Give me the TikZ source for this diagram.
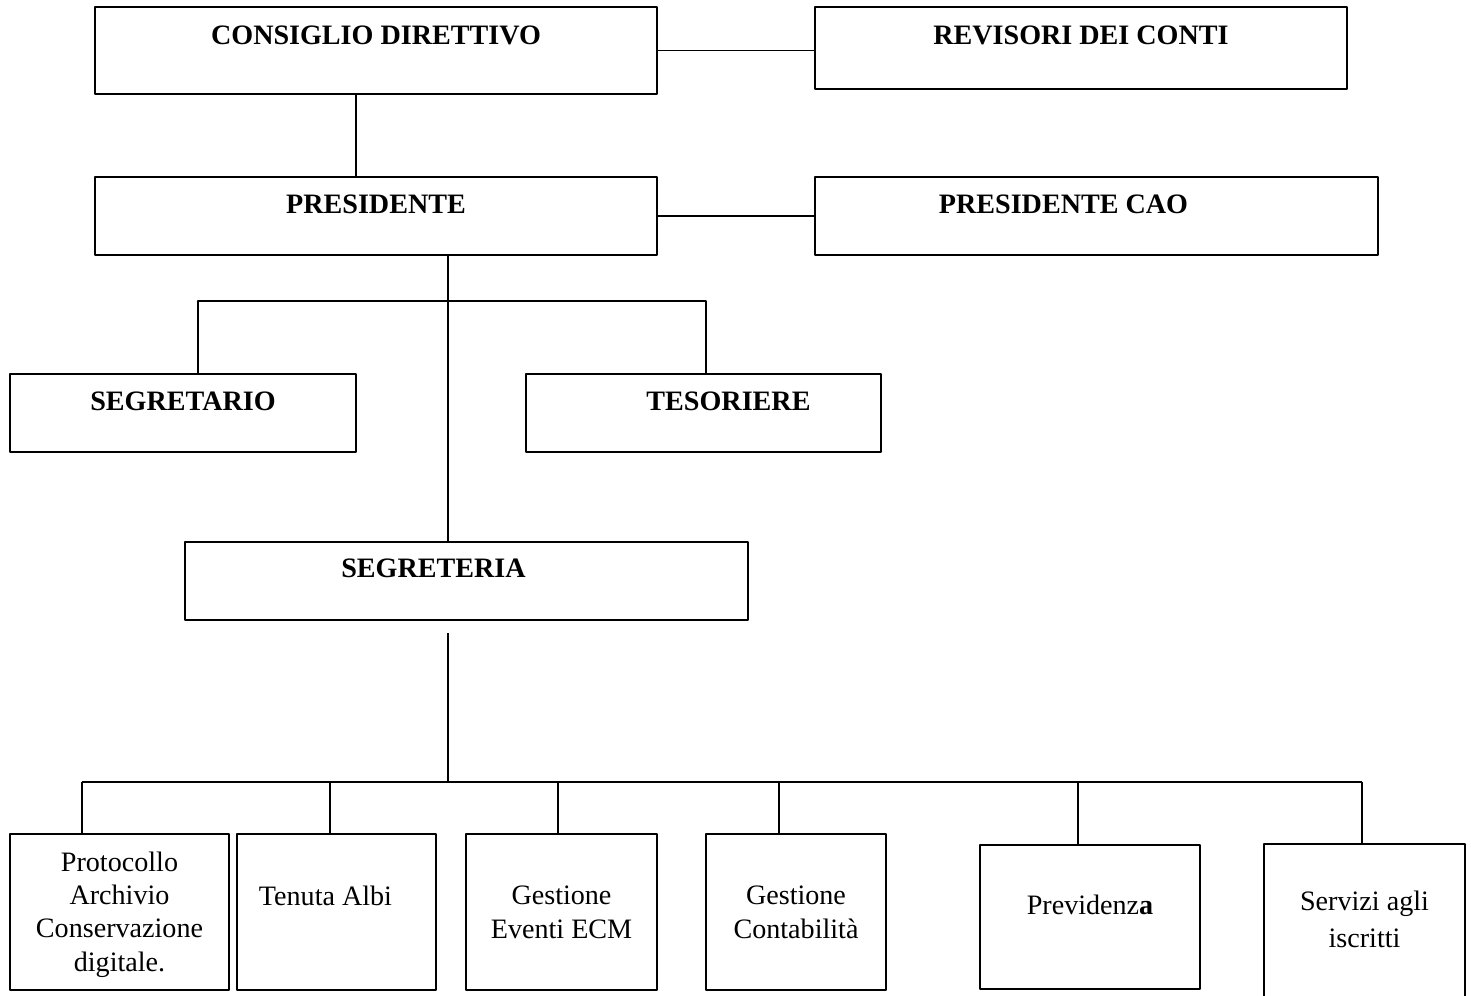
\documentclass[tikz,border=0pt]{standalone}
\usepackage{fontspec}
\setmainfont{Liberation Serif}
\newdimen\px \px=0.02cm
\tikzset{
  box/.style={draw,line width=1.1pt,anchor=north west,inner sep=0pt,outer sep=0pt,align=center},
  boss/.style={box,font=\fontsize{16}{19}\selectfont\bfseries},
  unit/.style={box,font=\fontsize{16}{18.8}\selectfont},
  boxw/.style={minimum width=#1\px},
  hd/.style 2 args={text height=#1\px,text depth=#2\px},
  link/.style={line width=1.1pt}
}
\begin{document}
\begin{tikzpicture}[x=0.02cm,y=-0.02cm,line join=round]
	\useasboundingbox (0,0) rectangle (1471,995);
	% top levels
	\path(95,7)node[boss,boxw=562,hd={37}{50}](cd){CONSIGLIO DIRETTIVO}
		(815,7)node[boss,boxw=532,hd={37}{45}](rev){REVISORI DEI CONTI}
		;
	\path(95,177)node[boss,boxw=562,hd={36}{42}](pres){PRESIDENTE}
		(815,177)node[boss,boxw=563,hd={36}{42}](cao){PRESIDENTE CAO\hspace*{66\px}}
		;
	\path(10,374)node[boss,boxw=346,hd={36}{42}](sgt){SEGRETARIO}
		(526,374)node[boss,boxw=355,hd={36}{42}](tes){\hspace*{50\px}TESORIERE}
		(185,542)node[boss,boxw=563,hd={35}{43}](segr){SEGRETERIA\hspace*{66\px}}
		;
	% offices (text height counted to the last line)
	\path(10,834)node[unit,boxw=219,hd={137}{19}](b1){Protocollo\\Archivio\\Conservazione\\digitale.}
		(237,834)node[unit,boxw=199,hd={71}{85}](b2){Tenuta Albi\hspace*{22\px}}
		(466,834)node[unit,boxw=191,hd={104}{52}](b3){Gestione\\Eventi ECM}
		(706,834)node[unit,boxw=180,hd={104}{52}](b4){Gestione\\Contabilità}
		(980,845)node[unit,boxw=220,hd={69}{75}](b5){Previdenz\textbf{a}}
		(1264,844)node[unit,boxw=201,hd={103}{53}](b6){Servizi agli\\[2pt]iscritti}
		;
	\draw[link](cd.east)--(cd.east-|rev.west);
	\draw[link](pres.east)--(cao.west);
	\draw[link]([xshift=-20\px]cd.south)--([xshift=-20\px]pres.north);
	\draw[link]([xshift=72\px]pres.south)--([xshift=-18.5\px]segr.north);
	\draw[link]([xshift=15\px]sgt.north)--++(0,-73)-|([xshift=2.5\px]tes.north);
	\draw[link]([shift={(-18.5,13)}]segr.south)--++(0,149)coordinate(hub);
	\draw[link]([xshift=-37.5\px]b1.north|-hub)--([xshift=-2.5\px]b6.north|-hub);
	\foreach \b/\dx in {b1/-37.5,b2/-6.5,b3/-3.5,b4/-17,b5/-12,b6/-2.5}
		\draw[link]([xshift=\dx\px]\b.north)--([xshift=\dx\px]\b.north|-hub);
\end{tikzpicture}
\end{document}
